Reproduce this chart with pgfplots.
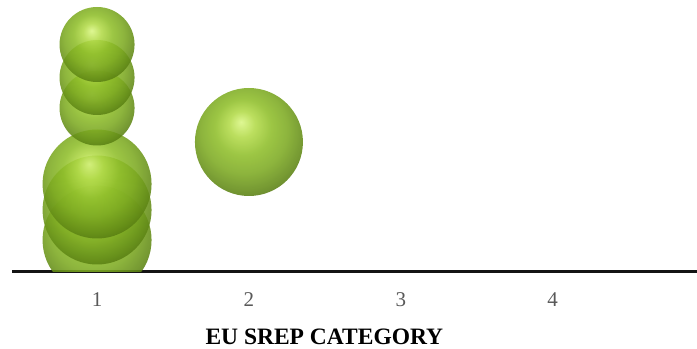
\documentclass[border=0pt]{standalone}
\usepackage{fontspec}
\setmainfont{Liberation Serif}
\usepackage{pgfplots}
\pgfplotsset{compat=1.18}

\definecolor{axisblack}{HTML}{141414}
\definecolor{tickgray}{HTML}{595959}
\definecolor{ballhl}{HTML}{DAF684}
\definecolor{ballmid}{HTML}{B2DA48}
\definecolor{ballbase}{HTML}{8FBE2A}
\definecolor{ballbody}{HTML}{7DAA22}
\definecolor{ballshade}{HTML}{628A16}
\definecolor{balldark}{HTML}{517410}
\definecolor{ballrim}{HTML}{86AE30}

% glossy green sphere: highlight a little up and left of the centre,
% dark flanks and a lighter reflected rim at the bottom
\pgfdeclareradialshading{greenball}{\pgfqpoint{-3.7bp}{9.3bp}}{%
  color(0bp)=(ballhl);
  color(6bp)=(ballmid);
  color(13bp)=(ballbase);
  color(20bp)=(ballbody);
  color(27bp)=(ballshade);
  color(31bp)=(balldark);
  color(35bp)=(ballrim);
  color(50bp)=(ballrim)}

\pgfdeclareplotmark{greenball}{%
  \pgfpathcircle{\pgfpointorigin}{\pgfplotmarksize}%
  \pgfshadepath{greenball}{0}%
  \pgfusepath{}%
}

\begin{document}
\begin{tikzpicture}
\useasboundingbox (0,0) rectangle (697bp,349bp);
\begin{axis}[
  at={(12bp,77.5bp)}, anchor=south west,
  scale only axis, width=685bp, height=271.5bp,
  xmin=0.44, xmax=4.95, ymin=0, ymax=271.5,
  axis x line*=bottom, axis y line=none,
  axis line style={-, line width=2bp, color=axisblack},
  x axis line style={-, line width=2bp, color=axisblack},
  xtick={1,2,3,4}, major tick length=0pt,
  /pgf/number format/assume math mode=true,
  xticklabel style={anchor=base, yshift=-34.5bp, text=tickgray,
    font=\fontsize{21bp}{24bp}\selectfont},
  xlabel={EU SREP CATEGORY},
  xlabel style={at={(axis description cs:0.456,0)}, anchor=base,
    yshift=-72.5bp, font=\fontsize{23.5bp}{28bp}\selectfont\bfseries},
  clip marker paths=true,
]
\addplot[scatter, only marks, mark=greenball,
  visualization depends on={\thisrow{r} \as \rad},
  scatter/@pre marker code/.append style={/tikz/mark size=\rad bp},
  mark options={fill opacity=0.88}]
  table {
x y r
1 31.5 54.5
1 61.5 54.5
1 87.5 54.5
1 163.5 37.5
1 194 37.5
1 227 37.5
2 129.5 54
};
\end{axis}
\end{tikzpicture}
\end{document}
